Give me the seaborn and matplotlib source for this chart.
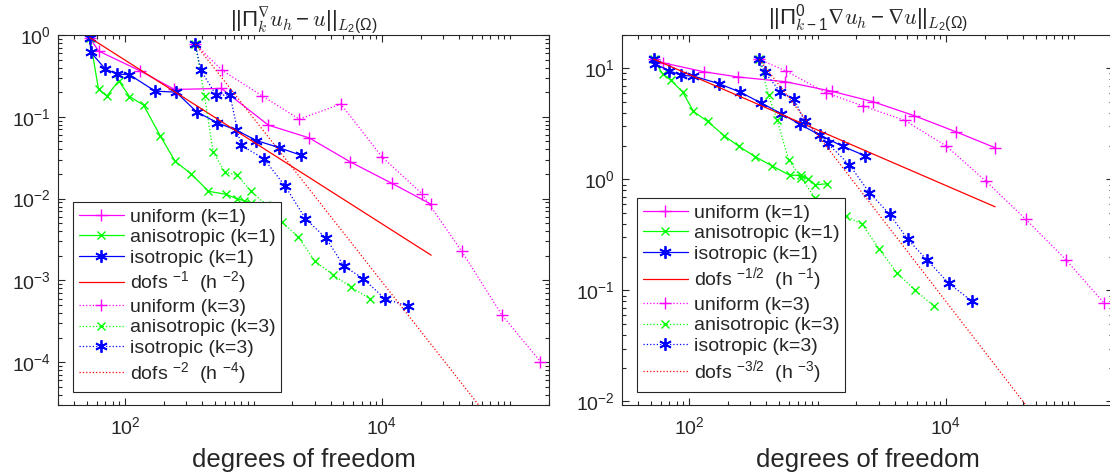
import numpy as np
import matplotlib
matplotlib.use('Agg')
import matplotlib.pyplot as plt
from matplotlib.ticker import LogLocator, NullFormatter, LogFormatterSciNotation
import seaborn as sns

# degrees of freedom of each refinement strategy (same meshes for both plots)
dofs_uniform_k1 = [53, 62, 130, 242, 562, 1303, 2704, 5662, 11912, 24155]
dofs_aniso_k1 = [53, 62, 72, 89, 108, 139, 188, 245, 327, 445, 607, 738, 845, 959, 1183]
dofs_iso_k1 = [53, 54, 70, 87, 108, 171, 249, 360, 522, 733, 1052, 1570, 2323]
dofs_uniform_k3 = [352, 569, 1161, 2270, 4786, 10046, 20464, 41879, 85704, 171396]
dofs_aniso_k3 = [352, 415, 484, 597, 745, 959, 1259, 1660, 2228, 3013, 4159, 5728, 8072]
dofs_iso_k3 = [352, 387, 511, 655, 794, 1197, 1766, 2535, 3656, 5047, 7145, 10544, 15885]

# ||Pi_k^nabla u_h - u||_L2
l2_uniform_k1 = [0.927, 0.637, 0.366, 0.216, 0.222, 0.0791, 0.0553, 0.0281, 0.0154, 0.00853]
l2_aniso_k1 = [0.927, 0.216, 0.179, 0.276, 0.177, 0.139, 0.0580, 0.0286, 0.0200, 0.0123,
               0.0113, 0.0100, 0.0094, 0.0088, 0.0082]
l2_iso_k1 = [0.927, 0.614, 0.384, 0.333, 0.327, 0.206, 0.200, 0.115, 0.0845, 0.0687,
             0.0513, 0.0421, 0.0340]
l2_uniform_k3 = [0.776, 0.369, 0.181, 0.0936, 0.143, 0.0321, 0.0115, 0.00226, 0.000380, 0.000102]
l2_aniso_k3 = [0.776, 0.179, 0.0373, 0.0212, 0.0193, 0.0123, 0.0083, 0.0052, 0.00340,
               0.00171, 0.00117, 0.000828, 0.000597]
l2_iso_k3 = [0.776, 0.373, 0.184, 0.184, 0.0450, 0.0309, 0.01416, 0.00569, 0.00330,
             0.00150, 0.00105, 0.000597, 0.000485]

# ||Pi^0_{k-1} grad u_h - grad u||_L2
h1_uniform_k1 = [12.1, 11.25, 9.33, 8.36, 7.59, 6.21, 5.01, 3.75, 2.69, 1.93]
h1_aniso_k1 = [12.1, 8.95, 7.85, 6.12, 4.10, 3.33, 2.47, 1.98, 1.60, 1.32,
               1.09, 1.09, 1.01, 0.895, 0.914]
h1_iso_k1 = [12.1, 11.0, 9.52, 8.65, 8.53, 7.28, 6.12, 4.91, 3.91, 3.13, 2.49, 1.99, 1.64]
h1_uniform_k3 = [12.05, 9.46, 6.04, 4.58, 3.40, 2.00, 0.966, 0.437, 0.190, 0.0764]
h1_aniso_k3 = [12.05, 5.71, 3.43, 1.49, 1.03, 0.68, 0.575, 0.468, 0.394, 0.237,
               0.144, 0.1007, 0.0723]
h1_iso_k3 = [12.05, 9.27, 6.17, 5.33, 3.33, 2.11, 1.36, 0.759, 0.484, 0.288,
             0.1875, 0.1156, 0.0802]

sns.set_style('ticks', {'xtick.direction': 'in', 'ytick.direction': 'in'})
plt.rcParams['font.family'] = ['Liberation Sans', 'DejaVu Sans']
plt.rcParams['mathtext.default'] = 'regular'
plt.rcParams['axes.edgecolor'] = '0.15'
plt.rcParams['text.color'] = '0.15'
plt.rcParams['xtick.color'] = '0.15'
plt.rcParams['ytick.color'] = '0.15'

ASTER = (6, 2, 0)


def draw_series(ax, dofs, err, color, marker, ls, label, ms, mew=1.0):
    sns.lineplot(x=np.array(dofs, dtype=float), y=np.array(err), ax=ax, color=color,
                 marker=marker, linestyle=ls, linewidth=0.9, markersize=ms,
                 markeredgecolor=color, markerfacecolor=color, markeredgewidth=mew,
                 estimator=None, sort=False, label=label)


def draw_panel(ax, errs, rates, title, ref_labels, ylim):
    e_u1, e_a1, e_i1, e_u3, e_a3, e_i3 = errs
    draw_series(ax, dofs_uniform_k1, e_u1, '#ff00ff', '+', '-', 'uniform (k=1)', 8)
    draw_series(ax, dofs_aniso_k1, e_a1, '#00ff00', 'x', '-', 'anisotropic (k=1)', 6)
    draw_series(ax, dofs_iso_k1, e_i1, '#0000ff', ASTER, '-', 'isotropic (k=1)', 9, 1.3)
    d1 = np.array(dofs_uniform_k1, dtype=float)
    ax.plot(d1, e_u1[0] * (d1 / d1[0]) ** rates[0], color='#ff0000', lw=0.9, label=ref_labels[0])
    draw_series(ax, dofs_uniform_k3, e_u3, '#ff00ff', '+', ':', 'uniform (k=3)', 8)
    draw_series(ax, dofs_aniso_k3, e_a3, '#00ff00', 'x', ':', 'anisotropic (k=3)', 6)
    draw_series(ax, dofs_iso_k3, e_i3, '#0000ff', ASTER, ':', 'isotropic (k=3)', 9, 1.3)
    d3 = np.array(dofs_uniform_k3, dtype=float)
    ax.plot(d3, e_u3[0] * (d3 / d3[0]) ** rates[1], color='#ff0000', lw=0.9, ls=':', label=ref_labels[1])

    ax.set_xscale('log')
    ax.set_yscale('log')
    ax.set_xlim(30, 2e5)
    ax.set_ylim(*ylim)
    ax.set_xticks([1e2, 1e4])
    ax.xaxis.set_major_formatter(LogFormatterSciNotation())
    ax.xaxis.set_minor_locator(LogLocator(base=10, subs=np.arange(1, 10), numticks=50))
    ax.xaxis.set_minor_formatter(NullFormatter())
    ax.yaxis.set_major_locator(LogLocator(base=10, numticks=20))
    ax.yaxis.set_minor_locator(LogLocator(base=10, subs=np.arange(2, 10), numticks=50))
    ax.yaxis.set_minor_formatter(NullFormatter())
    ax.tick_params(which='both', top=True, right=True, labelsize=14, width=0.8)
    ax.tick_params(axis='x', which='major', length=5, pad=8)
    ax.tick_params(axis='y', which='major', length=5, pad=5)
    ax.tick_params(which='minor', length=3)
    for s in ax.spines.values():
        s.set_linewidth(0.8)

    ax.set_xlabel('degrees of freedom', fontsize=18.5, labelpad=7)
    ax.set_ylabel('')
    ax.set_title(title, fontsize=16, math_fontfamily='cm', pad=3)
    leg = ax.legend(loc='lower left', bbox_to_anchor=(0.031, 0.036), borderaxespad=0,
                    fontsize=14, frameon=True, fancybox=False, framealpha=1,
                    edgecolor='0.15', handlelength=2.3, handletextpad=0.3,
                    labelspacing=0.15, borderpad=0.3)
    leg.get_frame().set_linewidth(0.8)


fig = plt.figure(figsize=(11.1, 4.74), dpi=100)
ax1 = fig.add_axes([0.0523, 0.1456, 0.4423, 0.7806])
ax2 = fig.add_axes([0.5604, 0.1456, 0.4423, 0.7806])

draw_panel(ax1, [l2_uniform_k1, l2_aniso_k1, l2_iso_k1, l2_uniform_k3, l2_aniso_k3, l2_iso_k3],
           (-1.0, -2.0),
           r'$||\Pi_{\mathit{k}}^{\nabla} \mathit{u}_{\mathit{h}} - \mathit{u}||_{\mathit{L}_2(\Omega)}$',
           [r'dofs $^{-1}$  (h $^{-2}$)', r'dofs $^{-2}$  (h $^{-4}$)'], (3e-5, 1.0))
draw_panel(ax2, [h1_uniform_k1, h1_aniso_k1, h1_iso_k1, h1_uniform_k3, h1_aniso_k3, h1_iso_k3],
           (-0.5, -1.5),
           r'$||\Pi^0_{\mathit{k}-1} \nabla \mathit{u}_{\mathit{h}} - \nabla \mathit{u}||_{\mathit{L}_2(\Omega)}$',
           [r'dofs $^{-1/2}$  (h $^{-1}$)', r'dofs $^{-3/2}$  (h $^{-3}$)'], (9.3e-3, 20))

fig.savefig('out.png', dpi=100)
